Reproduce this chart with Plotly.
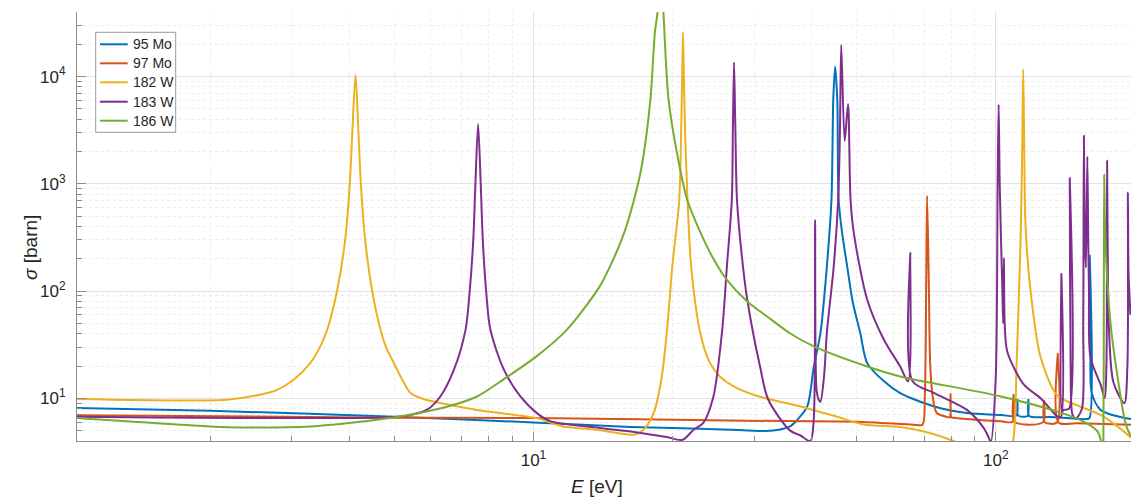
import numpy as np
import plotly.graph_objects as go

# Series names and MATLAB-style line colours
isotopes = ["95 Mo", "97 Mo", "182 W", "183 W", "186 W"]
line_colors = ["#0072BD", "#D95319", "#EDB120", "#7E2F8E", "#77AC30"]

# Cross sections: energy [eV] and sigma [barn] for each isotope
mo95_energy = [1.03, 2.0, 5.0, 10.0, 16.2, 23.0, 29.0, 33.0, 35.9, 37.2,
               39.1, 40.4, 41.75, 43.1, 44.1, 44.5, 44.9, 45.4, 45.7, 46.5,
               47.7, 49.0, 50.9, 52.7, 57.3, 62.1, 73.6, 86.6, 102.6, 110.8,
               111.3, 111.8, 117.1, 117.6, 118.1, 131.4, 156.0, 159.2, 159.6, 160.2,
               161.2, 168.5, 183.0, 196.0]
mo95_sigma = [8.13, 7.66, 6.74, 5.96, 5.41, 5.21, 5.02, 5.0, 5.47, 6.3,
              8.4, 19.8, 40.6, 169, 710, 6065, 12400, 6065, 710, 350,
              169, 80, 40.6, 21.3, 14.4, 11.2, 8.4, 7.3, 7.0, 6.9,
              9.7, 6.9, 6.85, 9.7, 6.85, 6.7, 6.4, 6.5, 213, 30.5,
              11.2, 7.8, 6.8, 6.4]

mo97_energy = [1.03, 5.0, 10.0, 29.0, 50.0, 66.4, 69.4, 70.2, 70.7, 71.0,
               71.6, 72.1, 73.0, 74.5, 78.5, 79.5, 79.8, 80.1, 81.0, 86.6,
               102.6, 108.7, 109.2, 109.7, 126.5, 127.0, 127.5, 135.6, 136.1, 136.6,
               150.0, 196.0]
mo97_sigma = [6.96, 6.6, 6.55, 6.18, 6.05, 5.68, 5.68, 10.4, 127, 773,
              127, 21.3, 10.4, 7.3, 6.7, 6.65, 11.0, 6.65, 6.6, 6.4,
              6.1, 6.05, 10.8, 6.05, 6.0, 9.5, 6.0, 5.95, 26.0, 5.95,
              5.85, 5.68]

w182_energy = [1.03, 1.69, 2.17, 2.56, 2.79, 3.03, 3.29, 3.46, 3.58, 3.76,
               3.915, 4.006, 4.057, 4.123, 4.183, 4.234, 4.325, 4.48, 4.67, 4.8,
               4.99, 5.2, 5.42, 5.8, 6.4, 7.55, 10.2, 11.6, 13.7, 16.5,
               17.3, 18.2, 18.9, 19.45, 19.96, 20.67, 20.86, 20.97, 21.06, 21.15,
               21.28, 21.54, 21.93, 22.95, 24.0, 25.3, 27.1, 30.5, 37.8, 45.0,
               51.8, 62.0, 70.0, 81.0, 90.0, 100.0, 106.0, 108.9, 111.0, 112.8,
               113.3, 114.0, 114.6, 115.2, 115.9, 118.9, 125.0, 135.8, 150.0, 168.5,
               185.0, 196.0]
w182_sigma = [9.85, 9.55, 9.7, 10.8, 12.0, 14.9, 21.3, 30.5, 43.5, 100,
              300, 1000, 3000, 10400, 3000, 1000, 300, 100, 43.5, 30,
              21.3, 15, 11.2, 9.8, 8.9, 7.8, 6.5, 5.47, 5.09, 4.58,
              5.09, 7.3, 14.9, 43.5, 169, 710, 3000, 10000, 25900, 10000,
              3000, 710, 169, 40.6, 22, 16, 12.9, 10.5, 8.4, 6.8,
              5.7, 5.4, 4.9, 4.0, 3.3, 2.9, 3.1, 4.0, 24, 204,
              415, 2000, 11700, 2000, 415, 99, 24, 10.6, 8.6, 7.0,
              5.3, 4.3]

w183_energy = [1.03, 5.0, 5.5, 5.89, 6.29, 6.73, 7.13, 7.28, 7.41, 7.49,
               7.59, 7.69, 7.77, 7.90, 8.07, 8.63, 9.37, 10.2, 10.9, 13.9,
               16.5, 19.4, 21.0, 22.2, 23.3, 24.5, 25.6, 26.2, 26.85, 27.0,
               27.15, 27.32, 27.55, 28.2, 29.0, 30.9, 32.2, 35.9, 37.8, 39.7,
               40.35, 40.65, 40.95, 41.4, 41.75, 42.5, 43.1, 44.6, 45.6, 46.0,
               46.3, 47.1, 47.9, 48.5, 49.3, 52.7, 57.3, 62.1, 64.6, 65.3,
               66.0, 73.6, 86.6, 94.1, 96.5, 97.5, 99.9, 100.9, 101.4, 101.9,
               102.6, 103.3, 103.7, 104.1, 104.5, 105.9, 115.0, 125.0, 135.8, 138.2,
               138.6, 139.0, 140.2, 144.0, 144.5, 145.1, 146.5, 149.0, 153.5, 154.5,
               155.0, 155.8, 156.6, 157.7, 158.4, 159.0, 160.2, 168.5, 172.0, 173.4,
               174.0, 174.7, 175.5, 179.5, 189.6, 192.5, 193.0, 193.6, 195.5]
w183_sigma = [6.74, 6.7, 7.1, 7.83, 10.4, 18.5, 43.5, 100, 300, 1000,
              3620, 1000, 300, 100, 43.5, 18.5, 10.4, 7.2, 6.1, 5.3,
              4.86, 4.36, 4.1, 5.09, 5.9, 10.4, 43.5, 169, 710, 3500,
              13600, 3500, 710, 220, 83, 19.8, 9.7, 5.0, 4.5, 4.0,
              6.0, 461, 12, 9.7, 9.3, 16, 40.6, 169, 710, 3000,
              19700, 2500, 5540, 710, 347, 83, 35, 19.8, 14.4, 226,
              14.5, 11.2, 7.8, 5.3, 4.3, 3.9, 14.9, 1090, 5480, 1090,
              300, 100, 50, 204, 50, 27, 13.4, 10, 6.8, 6.7,
              144, 7.5, 7.8, 8.0, 1130, 20, 7.0, 6.5, 8.0, 50,
              2800, 300, 165, 1795, 300, 99, 24, 13.4, 10, 20,
              1637, 150, 48, 14.2, 9.0, 20, 830, 150, 60]

w186_energy = [1.03, 2.0, 2.36, 3.3, 4.59, 5.42, 6.41, 7.55, 8.63, 10.2,
               11.8, 13.9, 14.9, 15.7, 16.5, 17.14, 17.9, 18.3, 18.55, 18.82,
               19.1, 19.6, 20.7, 21.5, 23.0, 24.5, 26.2, 29.0, 32.0, 36.0,
               40.4, 52.7, 62.1, 102.6, 142.7, 157.7, 166.0, 168.5, 170.0, 170.8,
               171.2, 171.5, 171.9, 172.8, 174.2, 177.0, 182.5, 191.0, 196.0]
w186_sigma = [6.55, 5.47, 5.35, 5.47, 6.3, 7.03, 8.2, 10.4, 15.1, 25,
              43.5, 110, 200, 347, 710, 1450, 6065, 25400, 40000, 110000,
              40000, 6065, 1450, 710, 347, 200, 127, 80, 58, 40,
              30.5, 19.8, 16, 10.4, 7.0, 5.8, 4.9, 4.1, 2.5, 4.0,
              100, 1214, 600, 250, 127, 50, 18, 5.7, 4.4]

series = [(mo95_energy, mo95_sigma), (mo97_energy, mo97_sigma),
          (w182_energy, w182_sigma), (w183_energy, w183_sigma),
          (w186_energy, w186_sigma)]

# Axis limits
e_min, e_max = 1.03, 196.0
s_min, s_max = 4.0, 4.0e4

# Plot-area geometry in pixels (used for the hand-placed legend and titles)
W, H = 1131, 497
ML, MR, MT, MB = 77, 0, 12, 56
PW, PH = W - ML - MR, H - MT - MB


def px_to_paper(px, py):
    return (px - ML) / PW, (H - MB - py) / PH


axis_gray = "#8c8c8c"
text_color = "#262626"
font_family = "Liberation Sans, Arial, Helvetica, sans-serif"

fig = go.Figure()
for name, color, (energy, sigma) in zip(isotopes, line_colors, series):
    fig.add_trace(go.Scatter(
        x=energy, y=sigma, mode="lines", name=name,
        line=dict(color=color, width=2, shape="spline", smoothing=0.8),
        showlegend=False, hoverinfo="x+y+name"))

minor_x = [m * 10 ** d for d in range(0, 3) for m in range(2, 10)
           if e_min <= m * 10 ** d <= e_max]
minor_y = [m * 10 ** d for d in range(0, 5) for m in range(2, 10)
           if s_min <= m * 10 ** d <= s_max]

common_axis = dict(
    type="log", ticks="inside", ticklen=9, tickwidth=1, tickcolor=axis_gray,
    showline=True, linecolor=axis_gray, linewidth=1, mirror=False,
    showgrid=True, gridcolor="#e2e2e2", gridwidth=1, zeroline=False,
    tickfont=dict(family=font_family, size=17, color=text_color),
)

fig.update_xaxes(
    range=[np.log10(e_min), np.log10(e_max)],
    tickvals=[10, 100], ticktext=["10<sup>1</sup>", "10<sup>2</sup>"],
    ticklabelstandoff=4,
    minor=dict(tickvals=minor_x, ticks="inside", ticklen=5, tickcolor=axis_gray,
               showgrid=True, gridcolor="#ededed", griddash="dot", gridwidth=1),
    **common_axis,
)
fig.update_yaxes(
    range=[np.log10(s_min), np.log10(s_max)],
    tickvals=[10, 100, 1000, 10000],
    ticktext=["10<sup>1</sup>", "10<sup>2</sup>", "10<sup>3</sup>", "10<sup>4</sup>"],
    ticklabelstandoff=7,
    minor=dict(tickvals=minor_y, ticks="inside", ticklen=5, tickcolor=axis_gray,
               showgrid=True, gridcolor="#ededed", griddash="dot", gridwidth=1),
    **common_axis,
)

# Legend box drawn by hand in the upper-left corner
shapes = []
annotations = []
bx0, by1 = px_to_paper(95.7, 32.3)
bx1, by0 = px_to_paper(175.7, 132.3)
shapes.append(dict(type="rect", xref="paper", yref="paper", x0=bx0, x1=bx1,
                   y0=by0, y1=by1, fillcolor="white",
                   line=dict(color="#9a9a9a", width=1), layer="above"))
row_y = [44.3, 63.3, 82.3, 101.7, 120.7]
for name, color, ry in zip(isotopes, line_colors, row_y):
    lx0, ly = px_to_paper(100, ry)
    lx1, _ = px_to_paper(127.7, ry)
    shapes.append(dict(type="line", xref="paper", yref="paper", x0=lx0, x1=lx1,
                       y0=ly, y1=ly, line=dict(color=color, width=2), layer="above"))
    tx, _ = px_to_paper(130.7, ry)
    annotations.append(dict(xref="paper", yref="paper", x=tx, y=ly, text=name,
                            showarrow=False, xanchor="left", yanchor="middle",
                            font=dict(family=font_family, size=14, color=text_color)))

# Axis titles
xt, yt = px_to_paper(597, 487)
annotations.append(dict(xref="paper", yref="paper", x=xt, y=yt,
                        text="<i>E</i> [eV]", showarrow=False,
                        xanchor="center", yanchor="middle",
                        font=dict(family=font_family, size=19, color=text_color)))
xt, yt = px_to_paper(30, 248)
annotations.append(dict(xref="paper", yref="paper", x=xt, y=yt,
                        text="<i>σ</i> [barn]", showarrow=False, textangle=-90,
                        xanchor="center", yanchor="middle",
                        font=dict(family=font_family, size=19, color=text_color)))

fig.update_layout(
    width=W, height=H,
    margin=dict(l=ML, r=MR, t=MT, b=MB),
    paper_bgcolor="white", plot_bgcolor="white",
    showlegend=False, shapes=shapes, annotations=annotations,
)

fig.write_html("out.html")
